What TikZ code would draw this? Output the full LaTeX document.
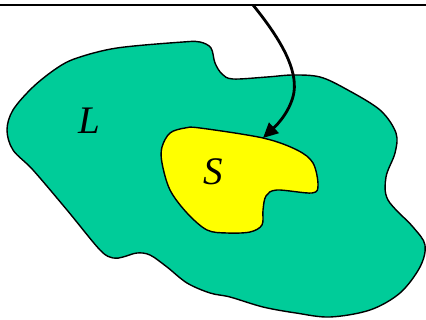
\documentclass[tikz,border=0pt]{standalone}
\usepackage{fontspec}
\setmainfont{Liberation Serif}
\usetikzlibrary{arrows.meta}
\definecolor{regiongreen}{RGB}{0,204,153}
\definecolor{regionyellow}{RGB}{255,255,0}
\tikzset{
  blob/.style={draw=black, line width=1.4pt, line join=round},
  pointer/.style={draw=black, line width=2.8pt, -{Triangle[length=15pt,width=14pt]}},
  setlabel/.style={font=\fontsize{39}{39}\selectfont\itshape, inner sep=0pt}
}
\begin{document}
\begin{tikzpicture}[x=1pt, y=-1pt]
\useasboundingbox (0,0) rectangle (426,320);

% separator rule along the top
\coordinate (ruleL) at (0,5);
\coordinate (ruleR) at (426,5);
\draw[line width=2.4pt] (ruleL) -- (ruleR);

% outer region L
\fill[regiongreen] plot[smooth cycle, tension=0.55] coordinates {
  (7,130) (13,110) (33,87) (57,68) (77,58) (117,48) (183,42) (200,42)
  (211,48) (215,63) (222,74) (233,79) (267,77) (293,75) (320,77) (346,89)
  (380,110) (396,133) (395,153) (386,177) (388,200) (413,227) (425,245)
  (420,267) (400,293) (370,310) (330,317) (296,313) (263,307) (230,297)
  (210,293) (187,283) (167,267) (150,255) (137,253) (123,257) (113,258)
  (100,250) (67,210) (33,170) (13,150)};
\draw[blob] plot[smooth cycle, tension=0.55] coordinates {
  (7,130) (13,110) (33,87) (57,68) (77,58) (117,48) (183,42) (200,42)
  (211,48) (215,63) (222,74) (233,79) (267,77) (293,75) (320,77) (346,89)
  (380,110) (396,133) (395,153) (386,177) (388,200) (413,227) (425,245)
  (420,267) (400,293) (370,310) (330,317) (296,313) (263,307) (230,297)
  (210,293) (187,283) (167,267) (150,255) (137,253) (123,257) (113,258)
  (100,250) (67,210) (33,170) (13,150)};

% inner region S
\draw[blob, fill=regionyellow] plot[smooth cycle, tension=0.55] coordinates {
  (162,147) (170,133) (185,128) (200,128) (263,138) (297,150) (313,163)
  (318,185) (312,193) (277,190) (266,196) (263,210) (262,225) (250,232)
  (227,233) (207,230) (187,213) (170,190) (162,163)};

\node[setlabel] (L) at (89,121) {L};
\node[setlabel] (S) at (213,172) {S};

% pointer from the rule into S
\coordinate (start) at (253,5);
\coordinate (target) at (263,138);
\draw[pointer] (start) .. controls (283,42) and (297,70) .. (294,92)
  .. controls (291,110) and (278,124) .. (target);
\end{tikzpicture}
\end{document}
